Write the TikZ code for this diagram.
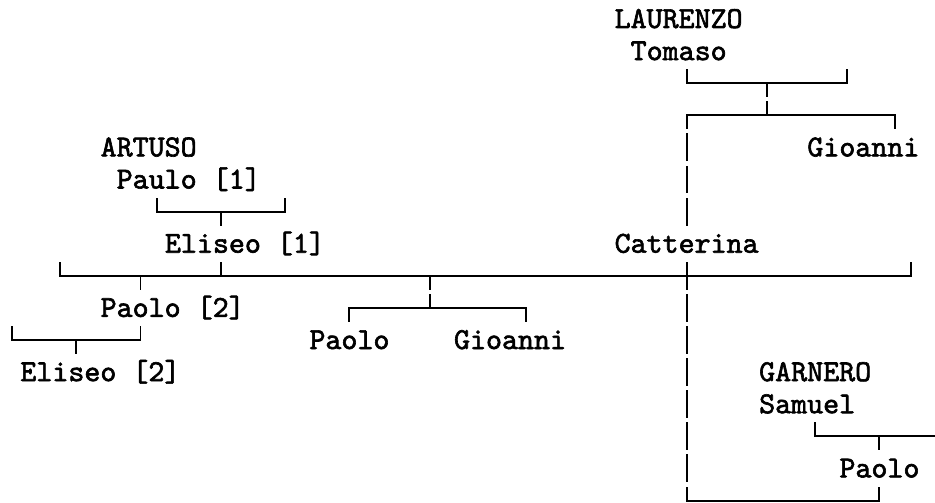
\documentclass[tikz,border=0pt]{standalone}
\usepackage{fontspec}
\newfontfamily\chartfont{lmmono10-regular.otf}[FakeBold=2]
\begin{document}
\begin{tikzpicture}[
  x=0.3212cm, y=-0.642cm,
  person/.style={font={\chartfont\fontsize{17.34pt}{20pt}\selectfont},
                 anchor=base west, inner sep=0pt},
  link/.style={line width=1.1pt, line cap=rect},
  bar/.style={link, dash pattern=on 0.52cm off 0.122cm, dash phase=0.26cm},
]
  \useasboundingbox (-0.747,-0.592) rectangle (57.47,15.05);

  % Laurenzo family
  \node[person] (lau)  at (37.5,0.28) {LAURENZO};
  \node[person] (tom)  at (38.5,1.28) {Tomaso};
  \node[person] (gio1) at (49.5,4.28) {Gioanni};
  \draw[link] (42,1.595) |- (52,2) -- (52,1.595);
  \draw[bar]  (47,2) -- (47,3);
  \draw[link] (42,3) -- (55,3) -- (55,3.405);
  \draw[bar]  (42,3) -- (42,6.405);

  % Artuso family
  \node[person] (art)  at (5.5,4.28) {ARTUSO};
  \node[person] (pau1) at (6.5,5.28) {Paulo [1]};
  \node[person] (eli1) at (9.5,7.28) {Eliseo [1]};
  \draw[link] (9,5.595) |- (17,6) -- (17,5.595);
  \draw[link] (13,6) -- (13,6.405);

  % Eliseo [1] and Catterina
  \node[person] (cat)  at (37.5,7.28) {Catterina};
  \draw[link] (3,7.595) |- (56,8) -- (56,7.595);
  \foreach \c/\d in {8/0.405, 13/-0.405} { \draw[link] (\c,8) -- ++(0,\d); }
  \draw[bar]  (26,8) -- (26,9);

  % Children
  \node[person] (pao2) at (5.5,9.28)   {Paolo [2]};
  \node[person] (pao3) at (18.5,10.28) {Paolo};
  \node[person] (gio2) at (27.5,10.28) {Gioanni};
  \draw[link] (21,9.405) |- (32,9) -- (32,9.405);

  % Paolo [2]
  \node[person] (eli2) at (0.5,11.28) {Eliseo [2]};
  \draw[link] (0,9.595) |- (8,10) -- (8,9.595);
  \draw[link] (4,10) -- (4,10.405);

  % Garnero family
  \node[person] (gar)  at (46.5,11.28) {GARNERO};
  \node[person] (sam)  at (46.5,12.28) {Samuel};
  \node[person] (pao4) at (51.5,14.28) {Paolo};
  \draw[link] (50,12.595) |- (57.47,13);
  \draw[link] (54,13) -- (54,13.405);

  % Catterina line down
  \draw[bar, dash phase=0cm] (42,7.595) -- (42,15);
  \draw[link] (42,15) -- (54,15) -- (54,14.595);

\end{tikzpicture}
\end{document}
